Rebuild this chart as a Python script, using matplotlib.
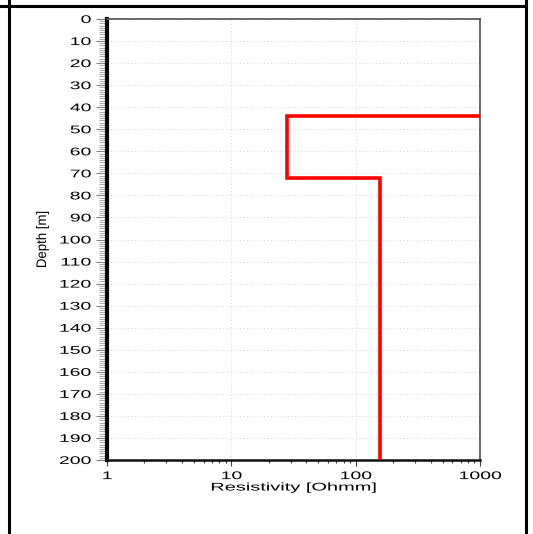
import matplotlib
matplotlib.use("Agg")
import matplotlib.pyplot as plt
from matplotlib.lines import Line2D
from matplotlib.patheffects import AbstractPathEffect
from matplotlib.transforms import Affine2D
from matplotlib.ticker import FixedLocator, NullFormatter, LogLocator
import numpy as np

# Layered earth model: resistivity of each layer and depth of its base
resistivity = [3000.0, 28.0, 157.0]        # Ohm·m
layer_bottom = [44.0, 72.0, 200.0]         # m

depth_ticks = list(range(0, 201, 10))
res_ticks = [1, 10, 100, 1000]
res_tick_labels = ["1", "10", "100", "1000"]

plt.rcParams["font.family"] = ["Liberation Sans", "DejaVu Sans"]


class Stretch(AbstractPathEffect):
    """Widen glyphs along the text direction about a fixed anchor."""

    def __init__(self, sx, anchor=0.5):
        super().__init__()
        self.sx = sx
        self.anchor = anchor

    def draw_path(self, renderer, gc, tpath, affine, rgbFace=None):
        v = tpath.vertices
        if len(v):
            x0, x1 = v[:, 0].min(), v[:, 0].max()
        else:
            x0 = x1 = 0.0
        xa = x0 + self.anchor * (x1 - x0)
        t = Affine2D().translate(-xa, 0).scale(self.sx, 1).translate(xa, 0) + affine
        renderer.draw_path(gc, tpath, t, rgbFace)


fig = plt.figure(figsize=(5.33, 5.34), dpi=100)
ax = fig.add_axes([107 / 533, 1 - 460 / 534, (480 - 107) / 533, (460 - 19) / 534])

# build the step profile from layer values
xs, ys = [], []
top = 0.0
for rho, bot in zip(resistivity, layer_bottom):
    xs += [rho, rho]
    ys += [top, bot]
    top = bot
ax.plot(xs, ys, color="#ff0000", lw=2.6, solid_joinstyle="miter", zorder=3)

ax.set_xscale("log")
ax.set_xlim(1, 1000)
ax.set_ylim(200, 0)

ax.xaxis.set_major_locator(FixedLocator(res_ticks))
ax.set_xticklabels(res_tick_labels)
ax.xaxis.set_minor_locator(LogLocator(base=10, subs=np.arange(2, 10)))
ax.xaxis.set_minor_formatter(NullFormatter())

ax.yaxis.set_major_locator(FixedLocator(depth_ticks))
ax.set_yticklabels([str(d) for d in depth_ticks])
ax.yaxis.set_minor_locator(FixedLocator(np.arange(0, 201, 1)))

ax.tick_params(axis="y", which="major", direction="out", length=8, width=0.8,
               color="#808080", pad=3.5, labelsize=8, labelcolor="black")
ax.tick_params(axis="y", which="minor", direction="out", length=5.5, width=0.6,
               color="#9a9a9a")
ax.tick_params(axis="x", which="major", direction="out", length=4, width=0.8,
               color="#404040", pad=4, labelsize=8)
ax.tick_params(axis="x", which="minor", direction="out", length=2.5, width=0.8,
               color="#404040")

ax.grid(True, which="major", axis="both", color="#d4d4d4", lw=0.7,
        linestyle=(0, (1, 2.5)))
ax.set_axisbelow(True)

ax.spines["left"].set_linewidth(3.0)
ax.spines["left"].set_color("black")
ax.spines["bottom"].set_linewidth(1.8)
ax.spines["bottom"].set_color("#101010")
for s in ("top", "right"):
    ax.spines[s].set_linewidth(1.2)
    ax.spines[s].set_color("#505050")

ax.set_xlabel("Resistivity [Ohmm]", fontsize=8, labelpad=1)
ax.set_ylabel("Depth [m]", fontsize=10)
ax.yaxis.set_label_coords((49 - 107) / 373, 0.5)

fig.canvas.draw()
for lbl in ax.get_yticklabels():
    lbl.set_path_effects([Stretch(1.75, anchor=1.0)])
for lbl in ax.get_xticklabels():
    lbl.set_path_effects([Stretch(1.75, anchor=0.5)])
ax.xaxis.label.set_path_effects([Stretch(1.8, anchor=0.5)])
ax.yaxis.label.set_path_effects([Stretch(0.95, anchor=0.5)])

# surrounding cell borders
W, H = 533, 534
border = dict(color="black", lw=2.2, transform=fig.transFigure)
fig.add_artist(Line2D([0, 526 / W], [1 - 5.5 / H, 1 - 5.5 / H], **border))
fig.add_artist(Line2D([8.5 / W, 8.5 / W], [0, 1], **border))
fig.add_artist(Line2D([525.5 / W, 525.5 / W], [0, 1], **border))

fig.savefig("out.png", dpi=100)
